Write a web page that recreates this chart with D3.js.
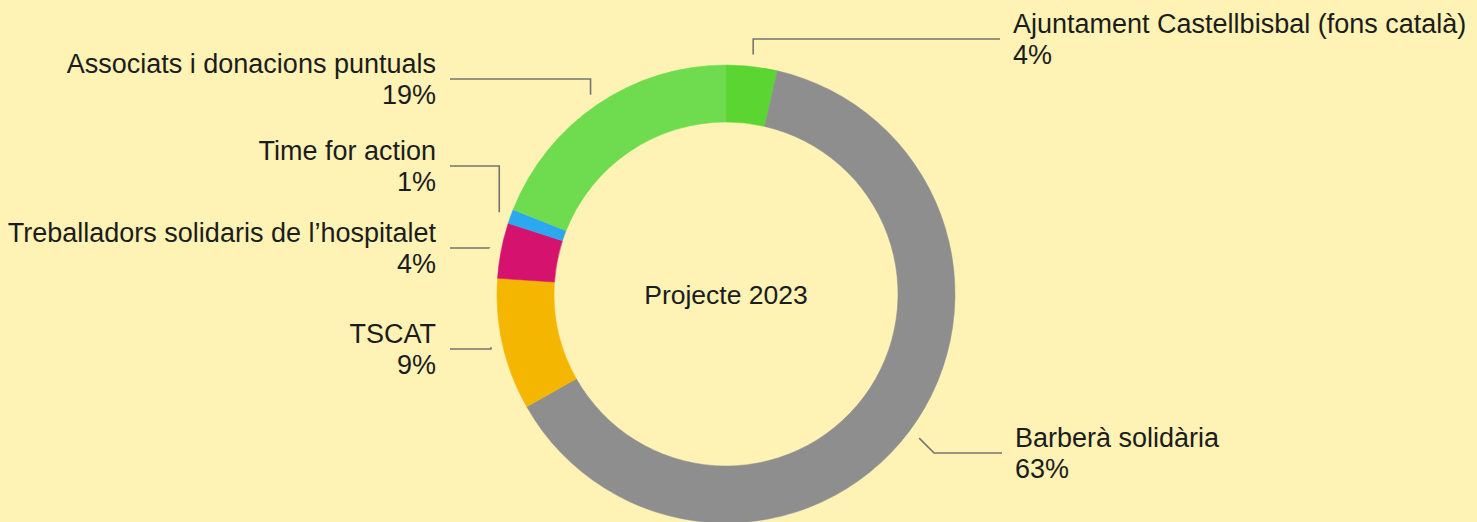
<!DOCTYPE html>
<html>
<head>
<meta charset="utf-8">
<script src="https://cdn.jsdelivr.net/npm/d3@7"></script>
<style>
    html, body { margin: 0; padding: 0; background: #fef2b4; }
    svg { display: block; }
    text { font-family: "Liberation Sans", Arial, Helvetica, sans-serif; fill: #1c1c1c; }
</style>
</head>
<body>
<div id="chart"><svg></svg></div>
<script>
// clockwise from 12 o'clock
const categories = [
    "Ajuntament Castellbisbal (fons català)",
    "Barberà solidària",
    "TSCAT",
    "Treballadors solidaris de l\u2019hospitalet",
    "Time for action",
    "Associats i donacions puntuals"
];
const values = [3.6, 63.2, 9.3, 3.9, 1.0, 19.0];
const pctLabels = ["4%", "63%", "9%", "4%", "1%", "19%"];
const colors = ["#5bd531", "#8e8e8e", "#f4b600", "#d5136f", "#2ba8ef", "#6fdb4e"];
const centerTitle = "Projecte 2023";

const WIDTH = 1477;
const HEIGHT = 522;
const CX = 726, CY = 294;
const OUTER = 229, INNER = 172;

// where each leader line ends up (horizontal part)
const LAYOUT = [
    {lineY: 39, endX: 1000, side: "right"},
    {lineY: 453, endX: 1002, side: "right", diag: true},
    {lineY: 349, endX: 450, side: "left"},
    {lineY: 248, endX: 450, side: "left"},
    {lineY: 166, endX: 450, side: "left"},
    {lineY: 79, endX: 450, side: "left"}
];

const data = categories.map((c, i) => ({name: c, value: values[i], pct: pctLabels[i], color: colors[i]}));

const svg = d3.select('svg')
    .attr('width', WIDTH)
    .attr('height', HEIGHT);

svg.append('rect')
    .attr('width', WIDTH)
    .attr('height', HEIGHT)
    .attr('fill', '#fef2b4');

const chart = svg.append('g')
    .attr('transform', `translate(${CX},${CY})`);

const pie = d3.pie().sort(null).value(d => d.value);
const arcs = pie(data);

const arc = d3.arc().innerRadius(INNER).outerRadius(OUTER);
const leaderArc = d3.arc().innerRadius(241).outerRadius(241);

chart.selectAll('.slice')
    .data(arcs)
    .enter()
    .append('path')
    .classed('slice', true)
    .attr('d', arc)
    .attr('fill', d => d.data.color)
    .attr('stroke', d => d.data.color)
    .attr('stroke-width', 0.5);

chart.append('text')
    .text(centerTitle)
    .attr('x', 0)
    .attr('y', 10)
    .attr('text-anchor', 'middle')
    .attr('font-size', '26.5px');

// leader lines + labels, in page coords
const labels = svg.append('g');

arcs.forEach((d, i) => {
    const lay = LAYOUT[i];
    const c = leaderArc.centroid(d);
    const sx = c[0] + CX, sy = c[1] + CY;
    const ex = lay.diag ? sx + (lay.lineY - sy) : sx;
    const pts = [[sx, sy], [ex, lay.lineY], [lay.endX, lay.lineY]];

    labels.append('path')
        .attr('d', d3.line()(pts))
        .attr('fill', 'none')
        .attr('stroke', '#767470')
        .attr('stroke-width', 1.6);

    const right = lay.side === 'right';
    const tx = right ? lay.endX + 13 : lay.endX - 14;
    const t = labels.append('text')
        .attr('x', tx)
        .attr('y', lay.lineY - 6)
        .attr('text-anchor', right ? 'start' : 'end')
        .attr('font-size', '27px');
    t.append('tspan').attr('x', tx).text(d.data.name);
    t.append('tspan').attr('x', tx).attr('dy', 31).text(d.data.pct);
});
</script>
</body>
</html>
